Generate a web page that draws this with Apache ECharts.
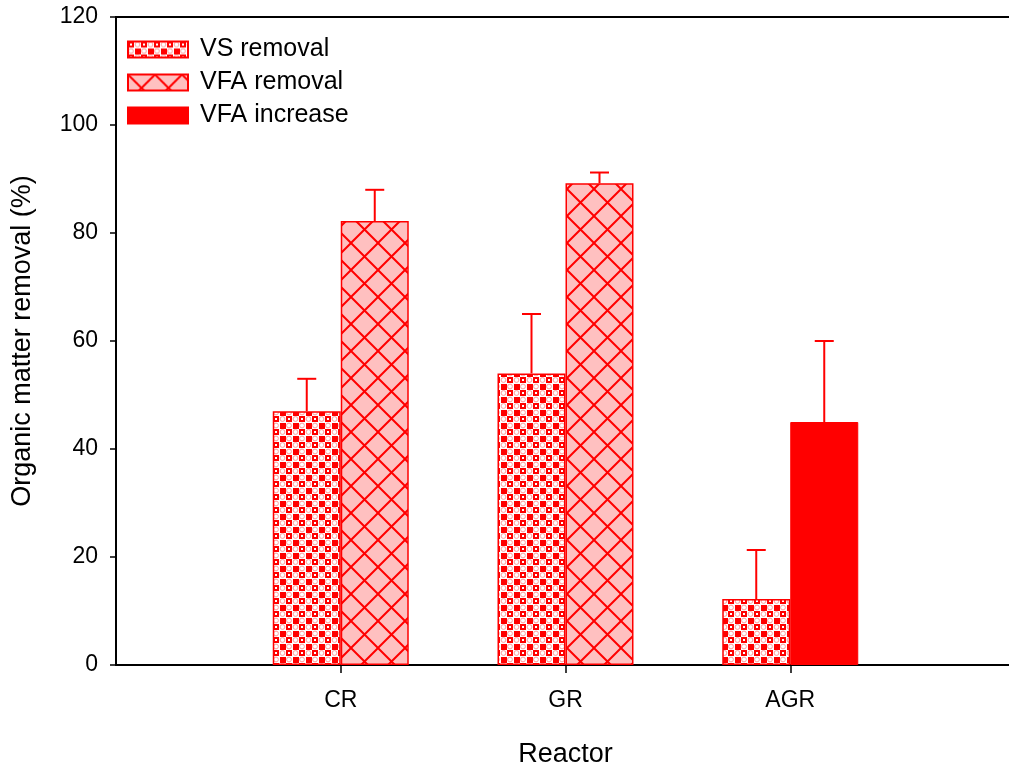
<!DOCTYPE html>
<html>
<head>
<meta charset="utf-8">
<script src="https://cdn.jsdelivr.net/npm/echarts@6/dist/echarts.min.js"></script>
<style>html,body{margin:0;padding:0;background:#fff;overflow:hidden}#c{width:1018px;height:774px}</style>
</head>
<body>
<div id="c"></div>
<script>
// Data
var categories = ['', 'CR', 'GR', 'AGR', ''];
var vsRemoval = ['-', 47, 54, 12.2, '-'];
var vsRemovalErr = ['-', 53, 65, 21.3, '-'];      // upper end of error bar
var vfaRemoval = ['-', 82.2, 89.2, '-', '-'];
var vfaRemovalErr = ['-', 88, 91.2, '-', '-'];
var vfaIncrease = ['-', '-', '-', 45, '-'];
var vfaIncreaseErr = ['-', '-', '-', 60, '-'];
var yTicks = [0, 20, 40, 60, 80, 100, 120];

var FONT = 'Liberation Sans, Arial, sans-serif';
var BAR_W = 68;

function makeCheck() {
  var c = document.createElement('canvas');
  c.width = 13; c.height = 13;
  var g = c.getContext('2d');
  g.fillStyle = '#ffffff'; g.fillRect(0, 0, 13, 13);
  g.fillStyle = '#ff0000';
  g.fillRect(0, 0, 6, 6);
  g.fillRect(7, 7, 6, 6);
  g.fillStyle = '#ffffff';
  g.fillRect(2, 2, 2, 2);
  g.strokeStyle = '#ff9a9a'; g.lineWidth = 1;
  g.beginPath(); g.arc(9.5, 3, 2.4, 0, Math.PI * 2); g.stroke();
  g.beginPath(); g.arc(3, 9.5, 2.4, 0, Math.PI * 2); g.stroke();
  return c;
}
function makeHatch() {
  var s = 27;
  var c = document.createElement('canvas');
  c.width = s; c.height = s;
  var g = c.getContext('2d');
  g.fillStyle = '#ffc0c0'; g.fillRect(0, 0, s, s);
  g.strokeStyle = '#ff0000'; g.lineWidth = 2;
  g.beginPath();
  g.moveTo(-2, -2); g.lineTo(s + 2, s + 2);
  g.moveTo(s + 2, -2); g.lineTo(-2, s + 2);
  g.stroke();
  return c;
}
var checkPat = { image: makeCheck(), repeat: 'repeat' };
var hatchPat = { image: makeHatch(), repeat: 'repeat' };

function errData(vals, errs, side) {
  var out = [];
  for (var i = 0; i < vals.length; i++) {
    if (vals[i] !== '-' && errs[i] !== '-') out.push([i, vals[i], errs[i], side]);
  }
  return out;
}
var errors = errData(vsRemoval, vsRemovalErr, -1)
  .concat(errData(vfaRemoval, vfaRemovalErr, 1))
  .concat(errData(vfaIncrease, vfaIncreaseErr, 1));

var chart = echarts.init(document.getElementById('c'), null, { renderer: 'canvas' });
chart.setOption({
  animation: false,
  textStyle: { fontFamily: FONT },
  grid: { left: 116, top: 17, right: 1, bottom: 109, show: true, borderColor: '#000', borderWidth: 2, backgroundColor: 'transparent' },
  legend: {
    left: 122, top: 32, orient: 'vertical',
    itemWidth: 60, itemHeight: 16, itemGap: 8, icon: 'rect',
    textStyle: { fontSize: 25, color: '#000', fontFamily: FONT, lineHeight: 22, padding: [0, 0, 0, 7] },
    data: ['VS removal', 'VFA removal', 'VFA increase'],
    selectedMode: false
  },
  xAxis: {
    type: 'category', data: categories, boundaryGap: false,
    name: 'Reactor', nameLocation: 'middle', nameGap: 76,
    nameTextStyle: { fontSize: 27, color: '#000', fontFamily: FONT },
    axisLine: { lineStyle: { color: '#000', width: 2 } },
    axisTick: { length: 8, lineStyle: { color: '#000', width: 1.5 }, interval: function (i) { return i > 0 && i < categories.length - 1; } },
    axisLabel: { fontSize: 23, color: '#000', margin: 24, interval: 0 },
    splitLine: { show: false }
  },
  yAxis: {
    type: 'value', min: yTicks[0], max: yTicks[yTicks.length - 1], interval: yTicks[1] - yTicks[0],
    name: 'Organic matter removal (%)', nameLocation: 'middle', nameGap: 80,
    nameTextStyle: { fontSize: 27, color: '#000', fontFamily: FONT },
    axisLine: { show: true, lineStyle: { color: '#000', width: 2 } },
    axisTick: { show: true, length: 6, lineStyle: { color: '#000', width: 1.5 } },
    axisLabel: { fontSize: 23, color: '#000', margin: 18 },
    splitLine: { show: false }
  },
  series: [
    { name: 'VS removal', type: 'bar', data: vsRemoval, barWidth: BAR_W, barGap: '0%',
      itemStyle: { color: checkPat, borderColor: '#ff0000', borderWidth: 1.5 } },
    { name: 'VFA removal', type: 'bar', stack: 'vfa', data: vfaRemoval, barWidth: BAR_W,
      itemStyle: { color: hatchPat, borderColor: '#ff0000', borderWidth: 1.5 } },
    { name: 'VFA increase', type: 'bar', stack: 'vfa', data: vfaIncrease, barWidth: BAR_W,
      itemStyle: { color: '#ff0000', borderColor: '#ff0000', borderWidth: 1 } },
    { name: 'err', type: 'custom', z: 5, data: errors,
      renderItem: function (params, api) {
        var side = api.value(3);
        var p0 = api.coord([api.value(0), api.value(1)]);
        var p1 = api.coord([api.value(0), api.value(2)]);
        var x = p0[0] + side * BAR_W / 2;
        var cap = 9.5;
        var st = { stroke: '#ff0000', lineWidth: 2 };
        return { type: 'group', children: [
          { type: 'line', shape: { x1: x, y1: p0[1], x2: x, y2: p1[1] }, style: st },
          { type: 'line', shape: { x1: x - cap, y1: p1[1], x2: x + cap, y2: p1[1] }, style: st }
        ] };
      }
    }
  ]
});
</script>
</body>
</html>
